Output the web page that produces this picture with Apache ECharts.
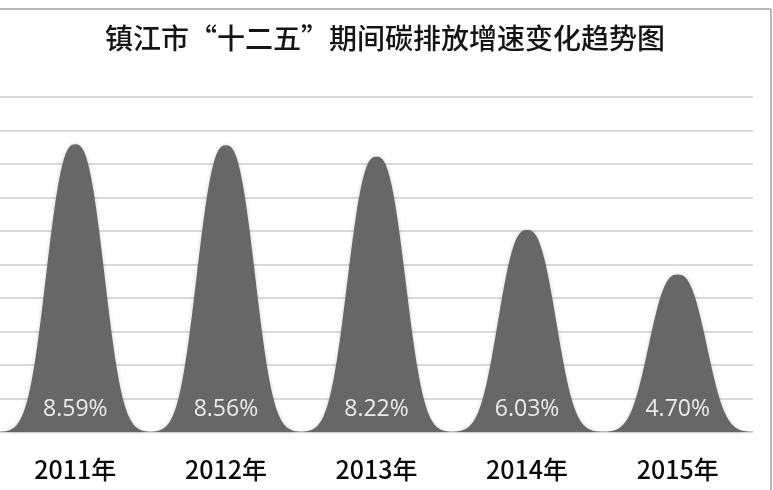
<!DOCTYPE html>
<html>
<head>
<meta charset="utf-8">
<script src="https://cdn.jsdelivr.net/npm/echarts@6/dist/echarts.min.js"></script>
<style>html,body{margin:0;padding:0;background:#fff}#c{width:773px;height:490px}</style>
</head>
<body>
<div id="c"></div>
<script>
var titleText = '镇江市“十二五”期间碳排放增速变化趋势图';
var categories = ['2011年', '2012年', '2013年', '2014年', '2015年'];
var growthRates = [8.59, 8.56, 8.22, 6.03, 4.70];
var yTicks = [0, 1, 2, 3, 4, 5, 6, 7, 8, 9, 10];

// bell-shaped symbol outline (shape only, scaled by the library to each bar)
function bellPath() {
  var pts = [];
  var n = 80, s = 0.47, p = 2.6;
  for (var i = 0; i <= n; i++) {
    var x = -1 + 2 * i / n;
    var h = Math.exp(-Math.pow(Math.abs(x) / s, p));
    pts.push(((x + 1) * 50).toFixed(2) + ',' + (100 - h * 100).toFixed(2));
  }
  return 'path://M0,100 L' + pts.join(' L') + ' L100,100 Z';
}

var chart = echarts.init(document.getElementById('c'), null, {renderer: 'canvas'});
chart.setOption({
  backgroundColor: '#ffffff',
  animation: false,
  title: {
    text: titleText,
    left: 380, top: 19, textAlign: 'center',
    textStyle: {fontFamily: 'Noto Sans CJK SC', fontSize: 28, fontWeight: 500, color: '#151515'}
  },
  graphic: [
    {type: 'line', shape: {x1: 0, y1: 9, x2: 771, y2: 9}, style: {stroke: '#a0a0a0', lineWidth: 1.5}},
    {type: 'line', shape: {x1: 771, y1: 9, x2: 771, y2: 490}, style: {stroke: '#a0a0a0', lineWidth: 1.5}}
  ],
  grid: {left: -2, right: 20, top: 97, bottom: 58},
  xAxis: {
    type: 'category',
    data: categories,
    axisLine: {show: false},
    axisTick: {show: false},
    axisLabel: {margin: 25, fontFamily: 'Noto Sans CJK SC', fontSize: 25, fontWeight: 500, color: '#0a0a0a'}
  },
  yAxis: {
    type: 'value',
    min: yTicks[0], max: yTicks[yTicks.length - 1], interval: 1,
    axisLabel: {show: false},
    axisLine: {show: false},
    axisTick: {show: false},
    splitLine: {lineStyle: {color: '#dadada', width: 2}}
  },
  series: [{
    type: 'pictorialBar',
    data: growthRates,
    barCategoryGap: '0%',
    symbol: bellPath(),
    symbolSize: ['100%', '100%'],
    itemStyle: {color: '#676767', shadowColor: 'rgba(0,0,0,0.18)', shadowBlur: 4},
    label: {
      show: true,
      position: 'insideBottom',
      distance: 11,
      formatter: function (p) { return p.value.toFixed(2) + '%'; },
      fontFamily: 'Open Sans', fontSize: 23, color: '#ececec'
    }
  }]
});
</script>
</body>
</html>
